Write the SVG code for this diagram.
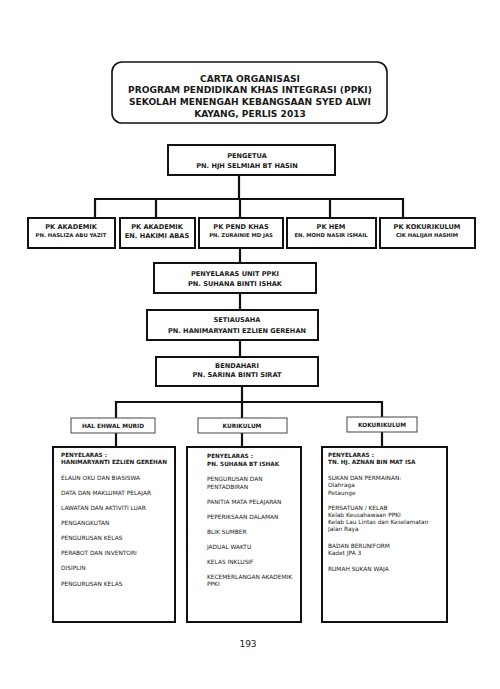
<svg xmlns="http://www.w3.org/2000/svg" width="500" height="689" viewBox="0 0 500 689">
<style>
text{font-family:"DejaVu Sans","Liberation Sans",sans-serif;fill:#1a1a1a}
.t{font-size:9.1px;font-weight:bold;text-anchor:middle}
.h{font-size:6.6px;font-weight:bold;text-anchor:middle}
.hs{font-size:5.3px;font-weight:bold;text-anchor:middle}
.sb{font-size:5.8px;font-weight:bold;text-anchor:middle}
.l{font-size:5.85px}
.lb{font-size:5.7px;font-weight:bold}
.box{fill:#fff;stroke:#111;stroke-width:2}
.sbox{fill:#fff;stroke:#444;stroke-width:1}
.conn{fill:none;stroke:#111;stroke-width:2.2}
</style>
<rect width="500" height="689" fill="#fff"/>
<g id="title">
<rect x="112" y="62" width="275" height="61" rx="10" fill="#fff" stroke="#111" stroke-width="1.6"/>
<text class="t" x="250" y="82">CARTA ORGANISASI</text>
<text class="t" x="250" y="93">PROGRAM PENDIDIKAN KHAS INTEGRASI (PPKI)</text>
<text class="t" x="250" y="104.5">SEKOLAH MENENGAH KEBANGSAAN SYED ALWI</text>
<text class="t" x="250" y="116.5">KAYANG, PERLIS 2013</text>
</g>
<g id="connectors">
<path class="conn" d="M239 175V199M95 218V199H403V218M156 199V218M240 199V218M330 199V218"/>
<path class="conn" d="M240 248V263M240 293V310M240 340V357M242 386V402"/>
<path class="conn" d="M116 418V402H382V417M242 402V418"/>
<path class="conn" d="M116 433V447M242 433V447M382 432V447"/>
</g>
<g id="pengetua">
<rect class="box" x="168" y="145" width="167" height="30"/>
<text class="h" x="247" y="158">PENGETUA</text>
<text class="h" x="247" y="168">PN. HJH SELMIAH BT HASIN</text>
</g>
<g id="pk1">
<rect class="box" x="28" y="218" width="87" height="30"/>
<text class="h" x="71" y="229">PK AKADEMIK</text>
<text class="hs" x="71" y="237">PN. HASLIZA ABU YAZIT</text>
</g>
<g id="pk2">
<rect class="box" x="120" y="218" width="75" height="30"/>
<text class="h" x="157" y="229">PK AKADEMIK</text>
<text class="h" x="157" y="238">EN. HAKIMI ABAS</text>
</g>
<g id="pk3">
<rect class="box" x="199" y="218" width="84" height="30"/>
<text class="h" x="241" y="229">PK PEND KHAS</text>
<text class="hs" x="241" y="237">PN. ZURAINIE MD JAS</text>
</g>
<g id="pk4">
<rect class="box" x="287" y="218" width="89" height="30"/>
<text class="h" x="331" y="229">PK HEM</text>
<text class="hs" x="331" y="237">EN. MOHD NASIR ISMAIL</text>
</g>
<g id="pk5">
<rect class="box" x="380" y="218" width="95" height="30"/>
<text class="h" x="427" y="229">PK KOKURIKULUM</text>
<text class="hs" x="427" y="237">CIK HALIJAH HASHIM</text>
</g>
<g id="penyelaras">
<rect class="box" x="154" y="263" width="162" height="30"/>
<text class="h" x="235" y="275.5">PENYELARAS UNIT PPKI</text>
<text class="h" x="235" y="285.5">PN. SUHANA BINTI ISHAK</text>
</g>
<g id="setiausaha">
<rect class="box" x="147" y="310" width="171" height="30"/>
<text class="h" x="237" y="321.5">SETIAUSAHA</text>
<text class="h" x="237" y="332.5">PN. HANIMARYANTI EZLIEN GEREHAN</text>
</g>
<g id="bendahari">
<rect class="box" x="156" y="357" width="162" height="29"/>
<text class="h" x="237" y="367.5">BENDAHARI</text>
<text class="h" x="237" y="376.5">PN. SARINA BINTI SIRAT</text>
</g>
<g id="hem">
<rect class="sbox" x="71" y="418" width="84" height="15"/>
<text class="sb" x="113" y="427.5">HAL EHWAL MURID</text>
</g>
<g id="kurikulum">
<rect class="sbox" x="198" y="418" width="89" height="15"/>
<text class="sb" x="242" y="427.5">KURIKULUM</text>
</g>
<g id="kokurikulum">
<rect class="sbox" x="347" y="417" width="70" height="15"/>
<text class="sb" x="382" y="426.5">KOKURIKULUM</text>
</g>
<g id="hem-list">
<rect class="box" x="53" y="447" width="122" height="175" stroke-width="1.6"/>
<text class="lb" x="61" y="457">PENYELARAS :</text>
<text class="lb" x="61" y="464">HANIMARYANTI EZLIEN GEREHAN</text>
<text class="l" x="61" y="480">ELAUN OKU DAN BIASISWA</text>
<text class="l" x="61" y="495">DATA DAN MAKLUMAT PELAJAR</text>
<text class="l" x="61" y="510">LAWATAN DAN AKTIVITI LUAR</text>
<text class="l" x="61" y="525">PENGANGKUTAN</text>
<text class="l" x="61" y="540">PENGURUSAN KELAS</text>
<text class="l" x="61" y="555">PERABOT DAN INVENTORI</text>
<text class="l" x="61" y="570">DISIPLIN</text>
<text class="l" x="61" y="586">PENGURUSAN KELAS</text>
</g>
<g id="kurikulum-list">
<rect class="box" x="187" y="447" width="114" height="175" stroke-width="1.6"/>
<text class="lb" x="207" y="458">PENYELARAS :</text>
<text class="lb" x="207" y="466">PN. SUHANA BT ISHAK</text>
<text class="l" x="207" y="481">PENGURUSAN DAN</text>
<text class="l" x="207" y="489">PENTADBIRAN</text>
<text class="l" x="207" y="504">PANITIA MATA PELAJARAN</text>
<text class="l" x="207" y="519">PEPERIKSAAN DALAMAN</text>
<text class="l" x="207" y="534">BLIK SUMBER</text>
<text class="l" x="207" y="549">JADUAL WAKTU</text>
<text class="l" x="207" y="564">KELAS INKLUSIF</text>
<text class="l" x="207" y="579">KECEMERLANGAN AKADEMIK</text>
<text class="l" x="207" y="586">PPKI</text>
</g>
<g id="kokurikulum-list">
<rect class="box" x="322" y="447" width="125" height="175" stroke-width="1.6"/>
<text class="lb" x="328" y="457">PENYELARAS :</text>
<text class="lb" x="328" y="464">TN. HJ. AZNAN BIN MAT ISA</text>
<text class="l" x="328" y="480">SUKAN DAN PERMAINAN:</text>
<text class="l" x="328" y="487">Olahraga</text>
<text class="l" x="328" y="495">Petaunge</text>
<text class="l" x="328" y="510">PERSATUAN / KELAB</text>
<text class="l" x="328" y="517">Kelab Keusahawaan PPKI</text>
<text class="l" x="328" y="524">Kelab Lau Lintas dan Keselamatan</text>
<text class="l" x="328" y="531">Jalan Raya</text>
<text class="l" x="328" y="548">BADAN BERUNIFORM</text>
<text class="l" x="328" y="555">Kadet JPA 3</text>
<text class="l" x="328" y="571">RUMAH SUKAN WAJA</text>
</g>
<text x="248" y="647" style="font-size:9px;text-anchor:middle">193</text>
</svg>
